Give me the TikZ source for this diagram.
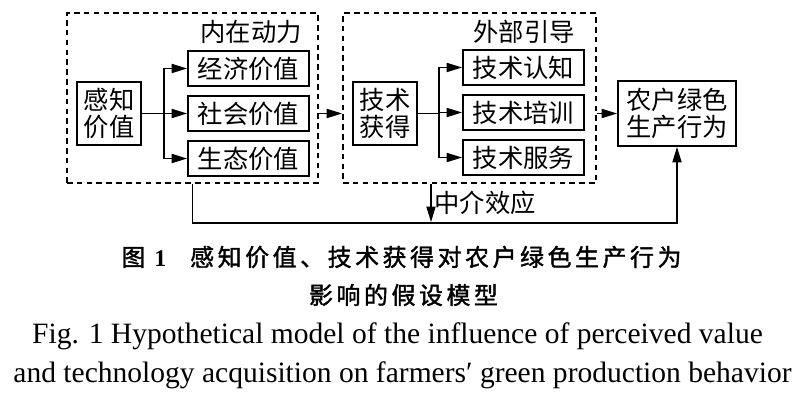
\documentclass[tikz,border=0pt]{standalone}
\usepackage{fontspec}
\setmainfont{Liberation Serif}
\newfontfamily\cjk{Noto Sans CJK SC}
\newfontfamily\cjkcap[LetterSpace=15,FakeBold=1.5]{Noto Sans CJK SC}
\usepackage{tikz}
\usetikzlibrary{arrows.meta,positioning}

\begin{document}
\begin{tikzpicture}[x=0.025cm,y=-0.025cm,line width=1pt,node distance=1.125cm,
  >={Triangle[length=11pt,width=6.5pt]},
  every node/.style={font=\cjk\fontsize{18}{19.5}\selectfont},
  vbox/.style={draw,line width=1.3pt,minimum width=3.025cm,minimum height=0.875cm,inner sep=0pt},
  srcbox/.style={draw,line width=1.3pt,minimum width=1.6cm,minimum height=1.575cm,inner sep=0pt,align=center},
  group/.style={draw,dash pattern=on 4pt off 3pt,line width=1.2pt,minimum height=4.25cm}]
  \useasboundingbox[fill=white] (0,0) rectangle (800,406);

  \node[group,minimum width=6.275cm] (inner) at (192.5,98) {};
  \node[group,minimum width=6.325cm] (outer) at (469.5,98) {};
  \node (innerlab) at (251,32) {内在动力};
  \node (outerlab) at (524,32) {外部引导};

  \node[srcbox] (pv) at (109,113.5) {感知\\价值};
  \node[vbox] (soc) at (248.5,113.5) {社会价值};
  \node[vbox] (econ) [above of=soc] {经济价值};
  \node[vbox] (eco) [below of=soc] {生态价值};

  \node[srcbox] (tech) at (385,113.5) {技术\\获得};
  \node[vbox] (train) at (523.5,112.5) {技术培训};
  \node[vbox] (cog) [above of=train] {技术认知};
  \node[vbox] (serv) [below of=train] {技术服务};

  \node[srcbox,minimum width=2.95cm,minimum height=1.625cm] (behav) at (677,113.5) {农户绿色\\生产行为};

  \coordinate[right=0.55cm of pv.east] (lsplit);
  \coordinate[right=0.525cm of tech.east] (rsplit);
  \coordinate (med) at (431,222);

  \draw (pv) -- (lsplit);
  \draw[->] (lsplit) |- (econ);
  \draw[->] (lsplit) -- (soc);
  \draw[->] (lsplit) |- (eco);
  \draw (tech) -- (rsplit);
  \draw[->] (rsplit) |- (cog);
  \draw[->] (rsplit) |- (train);
  \draw[->] (rsplit) |- (serv);

  \draw[->] (soc -| inner.east) -- (soc -| outer.west);
  \draw[->] (behav -| outer.east) -- (behav);
  \draw[->] (inner.south) -- ++(0,39) -| (behav);
  \draw[->] (outer.south -| med) -- (med) node[midway,right,inner sep=2pt] {中介效应};

  \node[font=\cjkcap\fontsize{17}{20}\selectfont] (cap1) at (401.5,257) {图\ {\rmfamily\bfseries 1}\quad 感知价值、技术获得对农户绿色生产行为};
  \node[font=\cjkcap\fontsize{17}{20}\selectfont] (cap2) at (403.5,295) {影响的假设模型};
  \node[font=\rmfamily\fontsize{21}{26}\selectfont,anchor=base] (cap3) at (397.5,343) {Fig. 1 Hypothetical model of the influence of perceived value};
  \node[font=\rmfamily\fontsize{21}{26}\selectfont,anchor=base] (cap4) at (402.5,382) {and technology acquisition on farmers′ green production behavior};
\end{tikzpicture}
\end{document}
